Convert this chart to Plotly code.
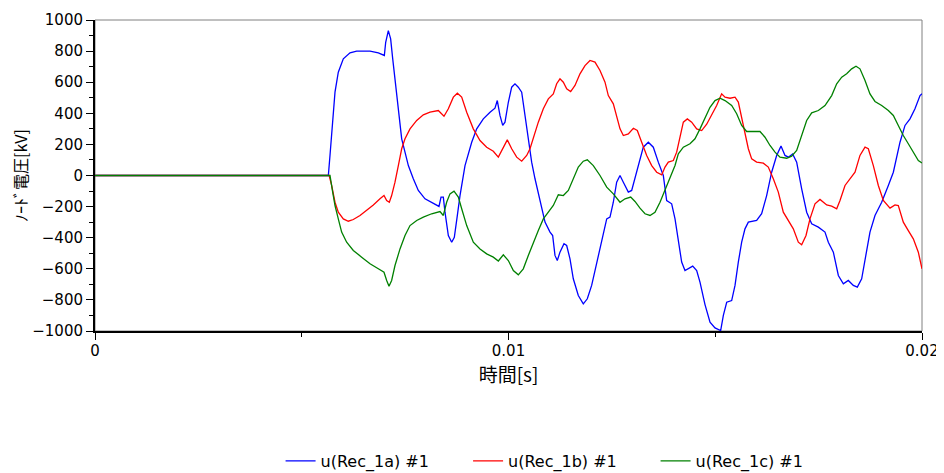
import plotly.graph_objects as go

t_a = [0, 0.005643, 0.005683, 0.005748, 0.005804, 0.005884, 0.006005, 0.006167, 0.006328, 0.006651,
       0.006852, 0.006997, 0.00703, 0.007094, 0.00715, 0.0072, 0.007255, 0.007336, 0.007417, 0.007497,
       0.007578, 0.007698, 0.007819, 0.007981, 0.008182, 0.008319, 0.008368, 0.008424, 0.008464, 0.008545,
       0.008626, 0.00869, 0.008763, 0.008827, 0.008948, 0.00911, 0.009231, 0.009391, 0.009553, 0.009673,
       0.009729, 0.009794, 0.00986, 0.009915, 0.009996, 0.010077, 0.010157, 0.010237, 0.010319, 0.010399,
       0.010479, 0.01056, 0.010641, 0.010721, 0.010802, 0.010883, 0.011004, 0.011068, 0.011124, 0.01118,
       0.011245, 0.011342, 0.011407, 0.011487, 0.011567, 0.011688, 0.011809, 0.011906, 0.012011, 0.012132,
       0.012254, 0.012375, 0.012455, 0.012535, 0.012616, 0.012697, 0.012777, 0.012898, 0.012979, 0.013059,
       0.01318, 0.01326, 0.013381, 0.013502, 0.013623, 0.013744, 0.013825, 0.013946, 0.014027, 0.014107,
       0.014188, 0.014268, 0.014349, 0.014455, 0.014551, 0.014631, 0.014752, 0.014873, 0.014994, 0.015131,
       0.015196, 0.015277, 0.015397, 0.015478, 0.015558, 0.015639, 0.015719, 0.0158, 0.016001, 0.016122,
       0.016243, 0.016364, 0.016485, 0.01659, 0.016687, 0.016767, 0.016872, 0.016969, 0.01709, 0.017211,
       0.017332, 0.017493, 0.017654, 0.017735, 0.017856, 0.017977, 0.018098, 0.018218, 0.018339, 0.018436,
       0.018541, 0.018622, 0.018742, 0.018863, 0.019025, 0.019186, 0.019307, 0.019468, 0.019589, 0.01971,
       0.01983, 0.019952, 0.02]
u_a = [0, 0, 129, 386, 536, 664, 750, 789, 800, 800,
       789, 772, 857, 932, 879, 750, 622, 407, 236, 150,
       64, -21, -96, -150, -182, -199, -139, -139, -236, -386,
       -429, -397, -257, -129, 64, 214, 300, 364, 407, 433,
       482, 386, 322, 343, 471, 568, 589, 568, 536, 386,
       236, 86, -21, -107, -214, -300, -364, -386, -514, -547,
       -493, -439, -450, -536, -664, -772, -825, -793, -707, -557,
       -407, -279, -268, -172, -43, 0, -43, -107, -96, -21,
       107, 182, 214, 182, 86, 0, -161, -182, -279, -429,
       -557, -611, -600, -583, -611, -686, -830, -943, -980, -997,
       -900, -815, -804, -707, -557, -429, -343, -300, -289, -246,
       -129, 21, 129, 189, 129, 118, 139, 86, -86, -236,
       -311, -332, -364, -429, -493, -643, -697, -675, -707, -718,
       -664, -536, -364, -257, -172, -64, 21, 214, 322, 364,
       429, 514, 525]

t_b = [0, 0.005663, 0.005723, 0.005804, 0.005884, 0.006005, 0.006126, 0.006247, 0.006409, 0.00657,
       0.006731, 0.006892, 0.006989, 0.007054, 0.007118, 0.007174, 0.007255, 0.007336, 0.007417, 0.007497,
       0.007618, 0.00778, 0.00794, 0.008102, 0.008303, 0.00844, 0.008545, 0.008666, 0.008763, 0.008868,
       0.008989, 0.009149, 0.009311, 0.009472, 0.009633, 0.009754, 0.009835, 0.009971, 0.010077, 0.010198,
       0.010319, 0.01044, 0.01052, 0.010601, 0.010721, 0.010842, 0.010963, 0.011084, 0.011165, 0.011245,
       0.011326, 0.011407, 0.011503, 0.011608, 0.011729, 0.01185, 0.011971, 0.012092, 0.012213, 0.012334,
       0.012414, 0.012535, 0.012616, 0.012697, 0.012777, 0.012898, 0.013019, 0.013115, 0.013221, 0.013342,
       0.013463, 0.013584, 0.013705, 0.013785, 0.013865, 0.013986, 0.014067, 0.014148, 0.014228, 0.014325,
       0.01443, 0.014551, 0.014672, 0.014793, 0.014913, 0.015034, 0.015155, 0.015236, 0.015357, 0.015478,
       0.015558, 0.015639, 0.015719, 0.0158, 0.015881, 0.016001, 0.016162, 0.016283, 0.016404, 0.016525,
       0.016646, 0.016767, 0.016888, 0.017009, 0.01709, 0.017195, 0.017291, 0.017412, 0.017533, 0.017695,
       0.017816, 0.017937, 0.018017, 0.018138, 0.018259, 0.01838, 0.0185, 0.018622, 0.018702, 0.018823,
       0.018944, 0.019065, 0.019226, 0.019347, 0.019427, 0.019548, 0.019669, 0.01979, 0.019911, 0.02]
u_b = [0, 0, -64, -172, -236, -279, -294, -283, -257, -225,
       -189, -150, -129, -161, -172, -129, -43, 64, 172, 236,
       300, 354, 390, 407, 418, 381, 429, 504, 529, 504,
       407, 300, 225, 182, 156, 118, 160, 229, 172, 118,
       92, 129, 172, 246, 343, 429, 493, 525, 590, 622,
       600, 557, 540, 579, 654, 707, 740, 729, 675, 600,
       514, 461, 375, 300, 257, 268, 304, 289, 214, 129,
       64, 21, 4, 54, 86, 96, 150, 257, 343, 364,
       343, 300, 289, 330, 386, 450, 525, 504, 497, 504,
       472, 364, 257, 172, 107, 86, 79, 54, -21, -107,
       -236, -289, -343, -429, -446, -386, -279, -182, -154, -189,
       -197, -214, -161, -64, -21, 21, 129, 182, 172, 64,
       -64, -161, -210, -189, -193, -300, -354, -407, -493, -600]

t_c = [0, 0.005683, 0.005748, 0.005804, 0.005884, 0.005965, 0.006086, 0.006247, 0.006449, 0.006651,
       0.006852, 0.006989, 0.007054, 0.00711, 0.007174, 0.007255, 0.007376, 0.007497, 0.007618, 0.00778,
       0.00794, 0.008142, 0.008343, 0.008424, 0.008504, 0.008585, 0.008682, 0.008787, 0.008868, 0.008989,
       0.009149, 0.009311, 0.009472, 0.009633, 0.009754, 0.009875, 0.009996, 0.010117, 0.010237, 0.010358,
       0.010479, 0.010601, 0.010721, 0.010842, 0.010963, 0.011084, 0.011205, 0.011326, 0.011447, 0.011567,
       0.011688, 0.011809, 0.011906, 0.012051, 0.012213, 0.012375, 0.012535, 0.012697, 0.012818, 0.012955,
       0.013059, 0.01318, 0.013301, 0.013422, 0.013543, 0.013664, 0.013785, 0.013906, 0.014027, 0.014107,
       0.014228, 0.014389, 0.01451, 0.014631, 0.014752, 0.014873, 0.014994, 0.015115, 0.015236, 0.015397,
       0.015518, 0.015639, 0.01576, 0.016082, 0.016203, 0.016324, 0.016445, 0.016566, 0.016727, 0.016848,
       0.016969, 0.01709, 0.017211, 0.017332, 0.017493, 0.017654, 0.017816, 0.017937, 0.018058, 0.018178,
       0.018299, 0.018404, 0.0185, 0.018622, 0.018742, 0.018863, 0.019025, 0.019186, 0.019307, 0.019427,
       0.019548, 0.019669, 0.01979, 0.019911, 0.02]
u_c = [0, 0, -107, -193, -279, -364, -429, -482, -525, -568,
       -600, -622, -675, -712, -675, -579, -472, -386, -322, -289,
       -268, -246, -232, -257, -172, -118, -101, -139, -214, -322,
       -429, -472, -504, -525, -550, -510, -547, -611, -639, -600,
       -514, -429, -354, -279, -236, -193, -124, -129, -96, -21,
       54, 92, 101, 64, 0, -75, -118, -172, -150, -139,
       -167, -210, -246, -257, -236, -172, -96, -21, 64, 139,
       182, 204, 236, 300, 370, 439, 482, 497, 482, 450,
       397, 322, 283, 283, 246, 193, 150, 118, 111, 124,
       161, 257, 354, 403, 418, 450, 514, 590, 632, 654,
       686, 703, 686, 611, 525, 476, 450, 418, 386, 322,
       257, 204, 150, 96, 81]

names = ["u(Rec_1a) #1", "u(Rec_1b) #1", "u(Rec_1c) #1"]
colors = ["#0000ff", "#ff0000", "#008000"]

y_ticks = list(range(-1000, 1001, 200))
x_ticks = [0, 0.01, 0.02]
x_ticktext = ["0", "0.01", "0.02"]

fig = go.Figure()
for tt, uu, nm, col in zip([t_a, t_b, t_c], [u_a, u_b, u_c], names, colors):
    fig.add_trace(go.Scatter(x=tt, y=uu, mode="lines", name=nm,
                             line=dict(color=col, width=1.3)))

font_main = "DejaVu Sans, Liberation Sans, Arial, sans-serif"
fig.update_layout(
    width=944, height=465,
    margin=dict(l=87, r=30, t=12, b=142, autoexpand=False),
    paper_bgcolor="white", plot_bgcolor="white",
    font=dict(family=font_main, size=15, color="#000000"),
    showlegend=True,
    legend=dict(orientation="h", x=0.2244, xanchor="left", y=-0.418, yanchor="middle",
                font=dict(size=16), bgcolor="rgba(0,0,0,0)",
                entrywidth=142.5, entrywidthmode="pixels"),
    shapes=[dict(type="rect", xref="paper", yref="paper", x0=0, y0=0, x1=1, y1=1,
                 line=dict(color="#808080", width=1), layer="below")],
)
fig.update_xaxes(
    range=[0, 0.02], tickvals=x_ticks, ticktext=x_ticktext,
    showgrid=False, zeroline=False, automargin=False,
    showline=True, linecolor="black", linewidth=2,
    ticks="outside", ticklen=7, tickwidth=1, tickcolor="black",
    ticklabelstandoff=-2,
    minor=dict(ticks="outside", dtick=0.005, ticklen=4, tickcolor="black"),
    title=dict(text="時間[s]", font=dict(family="Noto Sans CJK JP", size=19), standoff=2),
)
fig.update_yaxes(
    range=[-1000, 1000], tickvals=y_ticks,
    showgrid=False, zeroline=False, automargin=False,
    showline=True, linecolor="black", linewidth=2,
    ticks="outside", ticklen=7, tickwidth=1, tickcolor="black",
    minor=dict(ticks="outside", dtick=100, ticklen=4, tickcolor="black"),
    title=dict(text="ﾉｰﾄﾞ電圧[kV]", font=dict(family="Noto Sans CJK JP", size=16), standoff=2),
)

fig.write_html("out.html")
